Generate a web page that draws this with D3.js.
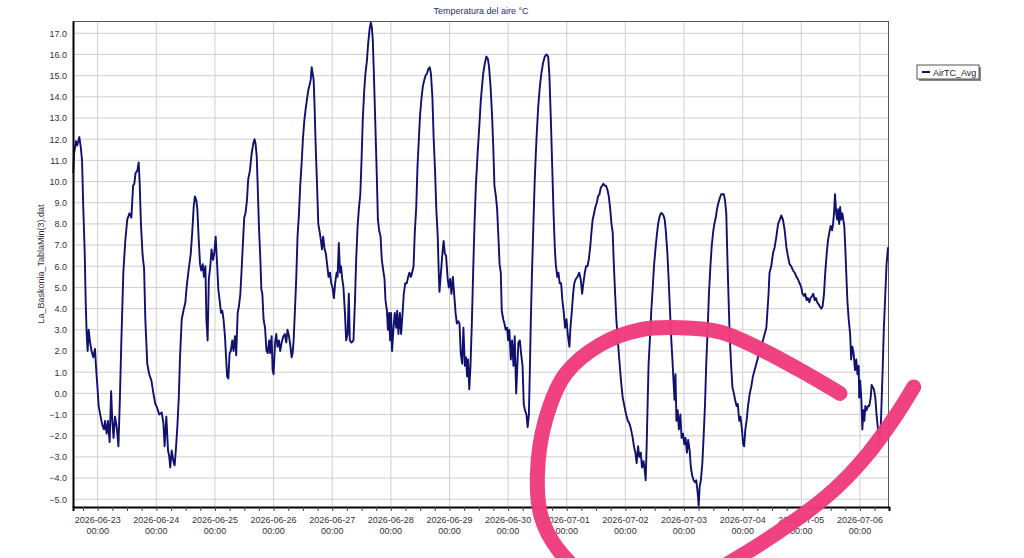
<!DOCTYPE html>
<html>
<head>
<meta charset="utf-8">
<script src="https://cdn.jsdelivr.net/npm/d3@7"></script>
<style>
  body { margin: 0; background: #fff; }
  svg { display: block; font-family: "Liberation Sans", Arial, sans-serif; }
</style>
</head>
<body>
<div id="chart"></div>
<script>
// hours since 2026-06-23 00:00
const hours = [
  -10.0, -9.7, -8.9, -8.4, -7.5, -6.9, -6.4, -5.9, -5.3, -4.9, -4.5, -4.1, -3.7, -3.1, -2.5, -1.8, -1.1, -0.7, -0.1,
  0.4, 1.2, 1.9, 2.6, 3.0, 3.7, 4.2, 4.9, 5.5, 6.0, 6.5, 7.1, 7.8, 8.5, 9.1, 9.7, 10.5, 11.3, 12.1, 13.0, 13.8,
  14.5, 15.0, 15.5, 16.2, 16.8, 17.2, 17.7, 18.4, 19.0, 19.5, 20.3, 21.1, 22.0, 22.8, 23.6,
  24.4, 25.2, 26.2, 26.9, 27.4, 28.1, 28.8, 29.3, 29.7, 30.3, 31.0, 31.5, 32.1, 32.6, 33.2, 33.7, 34.4, 35.1,
  35.9, 36.4, 37.2, 38.1, 38.7, 39.3, 39.8, 40.4, 40.8, 41.3, 41.9, 42.4, 43.0, 43.5, 44.1, 44.5, 45.0,
  45.5, 46.1, 46.6, 47.2, 47.7, 48.3, 48.8, 49.4, 49.9, 50.5, 51.0, 51.5, 52.1, 52.6, 53.0, 53.5, 54.0, 54.5,
  55.1, 55.6, 56.2, 56.7, 57.3, 57.8, 58.4, 58.9, 59.5, 60.0, 60.5, 61.1, 61.6, 62.3, 63.0, 63.7, 64.2, 64.6,
  65.1, 65.5, 66.0, 66.6, 67.0, 67.4, 67.9, 68.5, 69.1, 69.6, 70.2, 70.6, 71.2, 71.6,
  72.0, 72.6, 73.1, 73.6, 74.2, 74.7, 75.3, 76.0, 76.6, 77.2, 77.7, 78.3, 78.8, 79.4, 79.8, 80.2, 80.7, 81.3,
  81.8, 82.4, 82.9, 83.5, 84.0, 84.6, 85.1, 85.7, 86.2, 86.8, 87.2, 87.6, 88.0, 88.4, 88.8, 89.2, 89.8, 90.3,
  90.9, 91.4, 91.8, 92.3, 92.9, 93.4, 94.0, 94.5, 95.1, 95.6,
  96.1, 96.7, 97.2, 97.8, 98.2, 98.7, 99.2, 99.6, 100.1, 100.6, 101.2, 101.7, 102.3, 102.8, 103.2, 103.9,
  104.7, 105.3, 105.8, 106.4, 106.9, 107.5, 108.0, 108.5, 109.1, 109.6, 110.2, 110.7, 111.3, 111.8, 112.2,
  112.6, 113.0, 113.6, 114.2, 114.7, 115.2, 115.8, 116.3, 116.9, 117.4, 117.8, 118.4, 118.8, 119.3, 119.7,
  120.1, 120.5, 121.1, 121.6, 122.2, 122.6, 123.1, 123.7, 124.2, 124.8, 125.3, 125.9, 126.5, 127.1, 127.6,
  128.2, 128.7, 129.3, 129.8, 130.4, 130.9, 131.5, 132.0, 132.6, 133.1, 133.7, 134.2, 134.8, 135.3, 135.9,
  136.4, 137.0, 137.5, 138.1, 138.6, 139.2, 139.6, 139.9, 140.5, 141.1, 141.6, 142.1, 142.6, 143.2, 143.7,
  144.3, 144.8, 145.4, 145.9, 146.5, 147.0, 147.6, 148.1, 148.6, 149.2, 149.7, 150.3, 150.8, 151.2, 151.6,
  152.1, 152.6, 153.2, 153.7, 154.3, 154.8, 155.5, 156.2, 156.8, 157.4, 157.8, 158.5, 159.1, 159.7, 160.2,
  160.8, 161.4, 161.9, 162.4, 163.0, 163.5, 164.1, 164.5, 165.0, 165.4, 166.0, 166.5, 167.0, 167.6,
  168.0, 168.5, 169.1, 169.6, 170.2, 170.7, 171.3, 171.7, 172.2, 172.8, 173.3, 173.9, 174.4, 174.9, 175.5,
  176.0, 176.5, 176.9, 177.3, 177.8, 178.4, 178.9, 179.6, 180.3, 181.0, 181.6, 182.3, 183.0, 183.7, 184.4,
  184.9, 185.5, 186.0, 186.6, 187.1, 187.5, 188.1, 188.6, 189.1, 189.7, 190.2, 190.8, 191.3, 191.9,
  192.4, 193.1, 193.5, 194.1, 194.6, 195.1, 195.7, 196.4, 197.1, 197.7, 198.3, 198.8, 199.4, 199.9, 200.5,
  201.0, 201.6, 202.1, 202.6, 203.2, 203.7, 204.3, 204.8, 205.4, 205.9, 206.5, 207.0, 207.6, 208.1, 208.7,
  209.2, 209.8, 210.3, 210.8, 211.2, 211.8, 212.3, 212.9, 213.5, 214.2, 214.9, 215.6,
  216.3, 217.0, 217.6, 218.3, 219.0, 219.5, 220.1, 220.6, 221.2, 221.7, 222.3, 222.8, 223.4, 223.9, 224.3,
  224.7, 225.1, 225.5, 226.1, 226.6, 227.2, 227.7, 228.3, 228.8, 229.4, 229.9, 230.5, 231.0, 231.6, 232.1,
  232.6, 233.2, 233.7, 234.3, 234.8, 235.2, 235.6, 236.1, 236.5, 236.9, 237.4, 237.9, 238.5, 239.0, 239.6,
  240.1, 240.6, 241.2, 241.7, 242.3, 242.8, 243.4, 243.9, 244.5, 245.0, 245.6, 246.0, 246.4, 246.9, 247.5,
  248.0, 248.6, 249.1, 249.7, 250.2, 250.8, 251.3, 251.9, 252.4, 253.0, 253.5, 254.1, 254.6, 255.2, 255.7,
  256.3, 256.8, 257.3, 257.7, 258.2, 258.7, 259.3, 259.8, 260.4, 260.9, 261.5, 262.0, 262.6, 263.1, 263.7,
  264.2, 264.6, 265.1, 265.6, 266.2, 266.9, 267.5, 268.2, 268.9, 269.6, 270.3, 270.9, 271.6, 272.3, 273.0,
  273.7, 274.1, 274.6, 275.0, 275.7, 276.4, 277.1, 277.8, 278.5, 279.2, 279.8, 280.5, 281.2, 281.9, 282.5,
  283.2, 283.9, 284.6, 285.3, 286.0, 286.6, 287.3, 288.0, 288.5, 289.1, 289.6, 290.2, 290.7, 291.3, 291.8,
  292.4, 292.9, 293.5, 294.0, 294.5, 295.1, 295.6, 296.2, 296.7, 297.3, 297.8, 298.4, 298.9, 299.5, 300.0,
  300.6, 301.0, 301.4, 301.8, 302.3, 302.7, 303.1, 303.5, 303.9, 304.3, 304.8, 305.2, 305.6, 306.0, 306.4,
  306.9, 307.4, 308.0, 308.4, 308.9, 309.4, 310.0, 310.5, 311.0, 311.5, 311.7, 312.1, 312.6, 313.0, 313.4,
  313.8, 314.2, 314.7, 315.3, 315.8, 316.4, 316.8, 317.2, 317.7, 318.3, 318.8, 319.4, 319.9, 320.3, 320.7,
  321.3, 321.8, 322.4, 322.9, 323.5
];

// AirTC_Avg (°C)
const airTC = [
  10.4, 11.3, 11.9, 11.7, 12.1, 11.6, 11.0, 8.8, 6.6, 4.3, 2.8, 2.0, 3.0, 2.4, 2.0, 1.7, 2.1, 1.3, 0.3,
  -0.6, -1.1, -1.5, -1.7, -1.3, -1.9, -1.3, -2.3, 0.1, -1.3, -2.1, -1.1, -1.6, -2.5, -0.2, 2.5, 5.7, 7.2, 8.2, 8.5, 8.3,
  9.8, 9.9, 10.4, 10.5, 10.9, 9.9, 8.0, 6.5, 5.9, 3.5, 1.4, 0.9, 0.6, 0.0, -0.5,
  -0.7, -1.0, -0.9, -1.4, -2.5, -1.1, -2.7, -3.0, -3.5, -2.7, -3.2, -3.4, -2.5, -1.6, -0.2, 1.7, 3.5, 3.9,
  4.3, 5.0, 5.8, 6.6, 7.6, 8.8, 9.3, 9.1, 8.7, 7.4, 6.1, 5.8, 6.1, 5.5, 6.0, 3.5, 2.5,
  5.4, 6.0, 6.8, 6.3, 6.6, 7.4, 6.3, 4.9, 4.4, 3.8, 3.9, 3.5, 2.7, 1.6, 0.8, 0.7, 1.9, 2.0,
  2.5, 2.0, 2.7, 1.8, 3.8, 4.1, 4.7, 5.8, 7.2, 8.3, 8.5, 9.1, 10.1, 10.5, 11.3, 11.8, 12.0, 11.8,
  11.2, 9.8, 7.9, 6.3, 4.9, 4.7, 3.5, 3.1, 2.0, 1.9, 2.5, 1.9, 2.7, 1.1,
  0.9, 2.4, 2.8, 2.2, 2.5, 2.0, 2.4, 2.7, 2.8, 2.4, 3.0, 2.7, 2.3, 1.7, 1.9, 2.5, 3.8, 5.5,
  7.4, 8.5, 9.8, 10.9, 12.0, 12.9, 13.4, 13.9, 14.3, 14.6, 14.8, 15.4, 15.1, 14.8, 13.5, 11.8, 9.8, 8.0,
  7.6, 7.2, 6.8, 7.4, 6.8, 6.6, 6.0, 5.5, 5.7, 5.2,
  5.0, 4.5, 5.2, 5.7, 5.5, 7.1, 5.7, 6.0, 5.4, 5.0, 3.8, 2.5, 2.8, 4.7, 2.5, 2.4,
  2.5, 4.3, 6.3, 7.9, 8.7, 9.4, 11.0, 12.9, 14.3, 15.1, 15.7, 16.5, 17.2, 17.5, 17.3,
  16.7, 15.3, 12.9, 10.5, 8.2, 7.7, 7.4, 6.3, 5.8, 5.4, 4.4, 3.9, 3.0, 3.8, 2.5,
  3.8, 2.0, 3.1, 3.8, 3.1, 3.9, 2.8, 3.8, 2.8, 3.8, 4.7, 5.2, 5.2, 5.5, 5.7,
  5.5, 5.7, 6.0, 7.6, 8.8, 10.7, 12.1, 13.2, 14.0, 14.5, 14.8, 15.0, 15.1, 15.3, 15.4,
  15.1, 14.0, 12.1, 10.5, 8.7, 7.4, 5.7, 4.8, 5.7, 6.6, 7.2, 6.6, 6.5, 5.5, 5.0,
  5.4, 4.7, 5.5, 4.7, 3.8, 3.3, 3.4, 3.3, 1.9, 1.4, 3.1, 1.3, 1.7, 0.8, 1.6,
  0.2, 1.3, 3.5, 5.8, 8.2, 9.8, 11.3, 12.6, 13.8, 14.6, 15.1, 15.6, 15.9, 15.8, 15.4,
  14.5, 13.2, 11.7, 9.8, 9.3, 8.7, 7.2, 6.1, 5.7, 3.9, 3.5, 3.3, 3.0, 3.1,
  2.5, 3.0, 1.6, 2.5, 1.3, 2.7, 0.0, 1.1, 2.4, 2.5, 1.9, 1.3, -0.5, -0.8, -1.0,
  -1.6, -1.0, 1.1, 3.5, 5.8, 8.2, 10.1, 12.0, 13.5, 14.5, 15.1, 15.6, 15.9, 16.0, 15.9,
  15.0, 12.9, 10.9, 8.5, 6.9, 6.1, 5.5, 5.7, 5.2, 5.2, 4.4, 3.8, 3.1, 3.5,
  2.8, 2.2, 3.1, 3.9, 4.7, 5.2, 5.4, 5.5, 5.7, 5.4, 4.7, 5.2, 5.7, 6.0, 6.0,
  6.3, 6.9, 7.6, 8.2, 8.5, 8.8, 9.0, 9.3, 9.4, 9.7, 9.8, 9.9, 9.8, 9.8, 9.6,
  9.3, 8.7, 8.0, 7.6, 6.3, 4.7, 3.5, 2.5, 1.6, 0.6, -0.2, -0.6,
  -1.0, -1.3, -1.4, -1.7, -2.1, -2.5, -2.8, -3.3, -2.5, -3.0, -2.8, -3.5, -3.2, -3.6, -4.1,
  -2.5, -0.5, 1.4, 2.7, 3.9, 5.0, 6.0, 6.8, 7.4, 8.0, 8.3, 8.5, 8.5, 8.4, 8.2,
  7.6, 6.6, 5.4, 3.8, 2.5, 1.7, 0.8, -0.3, 0.9, -1.3, -0.8, -1.7, -1.0, -2.1, -1.9,
  -2.4, -2.1, -2.8, -2.2, -2.7, -3.5, -3.9, -4.1, -4.2, -4.1, -4.7, -5.3, -4.4, -4.1, -3.3,
  -2.1, -0.5, 1.4, 3.1, 4.7, 6.0, 6.9, 7.6, 8.0, 8.3, 8.7, 9.0, 9.2, 9.4, 9.4,
  9.4, 9.1, 8.5, 6.6, 4.6, 2.7, 1.3, 0.3, 0.0, -0.3, -0.6, -0.5, -1.3, -1.1, -1.7,
  -2.4, -2.5, -1.7, -1.3, -0.6, 0.0, 0.3, 0.8, 1.1, 1.4, 1.7, 2.0, 2.2, 2.5, 2.8,
  3.1, 3.8, 4.7, 5.7, 6.0, 6.6, 6.9, 7.4, 8.0, 8.2, 8.4, 8.2, 7.7, 6.9, 6.5,
  6.1, 6.0, 5.8, 5.7, 5.5, 5.4, 5.2, 5.0, 4.7, 4.6, 4.7, 4.4, 4.5, 4.3, 4.5,
  4.6, 4.7, 4.4, 4.5, 4.3, 4.2, 4.1, 4.0, 4.1, 4.7, 5.7, 6.6, 7.2, 7.6, 7.9,
  7.7, 8.0, 8.5, 9.4, 8.5, 8.2, 8.7, 8.0, 8.8, 8.2, 8.5, 8.2, 7.9, 6.9, 5.7,
  4.3, 3.5, 2.8, 1.6, 2.2, 1.9, 1.1, 1.6, 0.9, 1.3, -0.2, 0.6, -0.3, -1.7, -0.8,
  -1.3, -0.6, -0.8, -0.6, -0.6, -0.2, 0.4, 0.3, 0.2, -0.2, -1.0, -1.7, -2.3, -2.2, -1.0,
  1.1, 3.1, 4.7, 6.1, 6.9
];

const yTicks = d3.range(-5, 18, 1);
const seriesName = "AirTC_Avg";
const titleText = "Temperatura del aire °C";
const yLabelText = "La_Baskonia_TablaMin(3).dat";

// hand-drawn marker stroke over the picture, in the same hours / °C units
const markHours = [303.8, 287.4, 271.1, 254.8, 238.4, 222.0, 205.7, 191.4, 183.2, 180.0, 181.5, 188.0, 200.0,
  222.0, 247.0, 260.0, 283.0, 301.0, 315.0, 327.0, 334.0];
const markValues = [0.0, 1.1, 2.1, 2.9, 3.1, 3.0, 2.3, 0.9, -1.3, -3.8, -5.8, -7.3, -8.6,
  -9.3, -8.7, -7.9, -6.2, -4.6, -2.9, -1.0, 0.3];

const W = 1024, H = 558;
const margin = { top: 21, right: 1024 - 889, bottom: 558 - 507, left: 73 };
const innerW = W - margin.left - margin.right;
const innerH = H - margin.top - margin.bottom;

const base = new Date(2026, 5, 23, 0, 0);
const toDate = h => new Date(base.getTime() + h * 3600000);
const data = hours.map((h, i) => ({ t: toDate(h), v: airTC[i] }));

const svg = d3.select("#chart").append("svg")
  .attr("width", W).attr("height", H);
svg.append("rect").attr("width", W).attr("height", H).attr("fill", "#fff");

const g = svg.append("g").attr("transform", `translate(${margin.left},${margin.top})`);

const x = d3.scaleTime()
  .domain([toDate(-10.1), toDate(323.9)])
  .range([0, innerW]);
const y = d3.scaleLinear()
  .domain([-5.365, 17.58])
  .range([innerH, 0]);

// grid
const dayTicks = x.ticks(d3.timeDay.every(1));
g.append("g").selectAll("line.vg").data(dayTicks).join("line")
  .attr("x1", d => x(d)).attr("x2", d => x(d))
  .attr("y1", 0).attr("y2", innerH)
  .attr("stroke", "#cfcfcf").attr("stroke-width", 1);
g.append("g").selectAll("line.hg").data(yTicks).join("line")
  .attr("x1", 0).attr("x2", innerW)
  .attr("y1", d => y(d)).attr("y2", d => y(d))
  .attr("stroke", "#cfcfcf").attr("stroke-width", 1);

// frame top/right
g.append("line").attr("x1", 0).attr("x2", innerW).attr("y1", 0.5).attr("y2", 0.5)
  .attr("stroke", "#555").attr("stroke-width", 1);
g.append("line").attr("x1", innerW - 0.5).attr("x2", innerW - 0.5).attr("y1", 0).attr("y2", innerH)
  .attr("stroke", "#555").attr("stroke-width", 1);

// series
const line = d3.line().x(d => x(d.t)).y(d => y(d.v));
g.append("path").datum(data)
  .attr("fill", "none")
  .attr("stroke", "#10106e")
  .attr("stroke-width", 1.9)
  .attr("stroke-linejoin", "round")
  .attr("d", line);

// y axis
const yAxis = g.append("g")
  .call(d3.axisLeft(y).tickValues(yTicks).tickFormat(d3.format(".1f")).tickSize(0).tickPadding(6));
yAxis.select(".domain").attr("stroke", "#000").attr("stroke-width", 2);
yAxis.selectAll("text").attr("font-size", "9px").attr("fill", "#333")
  .attr("font-family", "Liberation Sans, Arial, sans-serif");

// x axis: minor ticks every 6h, labels at each day
const xAxis = g.append("g").attr("transform", `translate(0,${innerH})`)
  .call(d3.axisBottom(x).ticks(d3.timeHour.every(6)).tickSize(4).tickFormat(""));
xAxis.select(".domain").attr("stroke", "#000").attr("stroke-width", 2);
xAxis.selectAll(".tick line").attr("stroke", "#444");

const fmtDay = d3.timeFormat("%Y-%m-%d");
const fmtHour = d3.timeFormat("%H:%M");
const xl = g.append("g").attr("transform", `translate(0,${innerH})`)
  .selectAll("text").data(dayTicks).join("text")
  .attr("x", d => x(d))
  .attr("text-anchor", "middle")
  .attr("font-size", "9px")
  .attr("fill", "#333");
xl.append("tspan").attr("x", d => x(d)).attr("y", 16).text(d => fmtDay(d));
xl.append("tspan").attr("x", d => x(d)).attr("y", 27).text(d => fmtHour(d));

// title
svg.append("text")
  .attr("x", 481)
  .attr("y", 14)
  .attr("text-anchor", "middle")
  .attr("font-size", "9px")
  .attr("fill", "#2a2a86")
  .text(titleText);

// y label
svg.append("text")
  .attr("transform", `translate(44,${margin.top + innerH / 2}) rotate(-90)`)
  .attr("text-anchor", "middle")
  .attr("font-size", "9px")
  .attr("fill", "#333")
  .text(yLabelText);

// legend
const lg = svg.append("g").attr("transform", "translate(917,65)");
lg.append("rect").attr("x", 2).attr("y", 2).attr("width", 62).attr("height", 14).attr("fill", "#888");
lg.append("rect").attr("x", 0).attr("y", 0).attr("width", 62).attr("height", 14)
  .attr("fill", "#fff").attr("stroke", "#555").attr("stroke-width", 1);
lg.append("line").attr("x1", 5).attr("x2", 13).attr("y1", 7).attr("y2", 7)
  .attr("stroke", "#10106e").attr("stroke-width", 2);
lg.append("text").attr("x", 16).attr("y", 10.5).attr("font-size", "9px").attr("fill", "#222").text(seriesName);

// marker scribble
const markData = markHours.map((h, i) => ({ t: toDate(h), v: markValues[i] }));
g.append("path").datum(markData)
  .attr("fill", "none")
  .attr("stroke", "#ef3b7c")
  .attr("stroke-width", 15)
  .attr("stroke-linecap", "round")
  .attr("stroke-linejoin", "round")
  .attr("opacity", 0.97)
  .attr("d", d3.line().curve(d3.curveCatmullRom).x(d => x(d.t)).y(d => y(d.v)));
</script>
</body>
</html>
